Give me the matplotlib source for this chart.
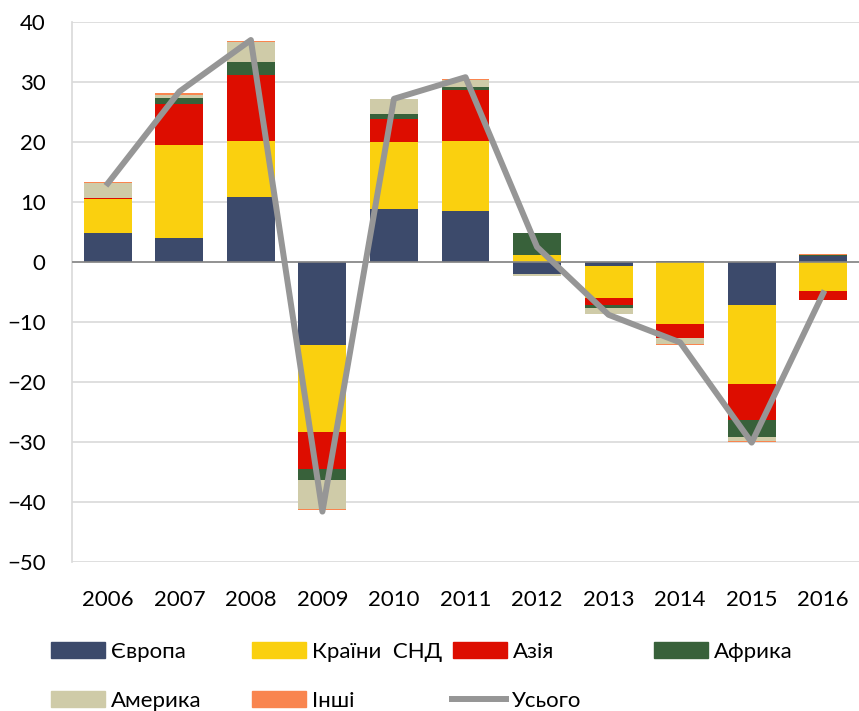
import numpy as np
import matplotlib
matplotlib.use("Agg")
import matplotlib.pyplot as plt
from matplotlib.patches import Patch
from matplotlib.lines import Line2D

plt.rcParams["font.family"] = ["Lato", "DejaVu Sans"]

years = ["2006", "2007", "2008", "2009", "2010", "2011", "2012", "2013", "2014", "2015", "2016"]

europe = [4.8, 4.0, 10.8, -13.8, 8.9, 8.5, -2.0, -0.7, 0.1, -7.2, 1.0]
cis = [5.7, 15.5, 9.3, -14.6, 11.1, 11.7, 1.2, -5.3, -10.4, -13.2, -4.8]
asia = [0.2, 6.8, 11.0, -6.1, 3.8, 8.4, 0.0, -1.2, -2.3, -5.9, -1.6]
africa = [0.0, 1.1, 2.2, -1.9, 0.8, 0.5, 3.6, -0.5, 0.1, -2.8, 0.15]
america = [2.5, 0.4, 3.3, -4.8, 2.5, 1.2, -0.3, -0.9, -1.0, -0.8, 0.0]
others = [0.1, 0.3, 0.25, -0.2, 0.1, 0.2, -0.1, -0.1, -0.1, -0.1, 0.15]
total = [13.1, 28.4, 37.0, -41.6, 27.2, 30.8, 2.5, -8.8, -13.4, -30.1, -5.2]

series = [
    ("Європа", europe, "#3C4A6B"),
    ("Країни  СНД", cis, "#FAD00F"),
    ("Азія", asia, "#DD0D00"),
    ("Африка", africa, "#38613A"),
    ("Америка", america, "#CFCBA8"),
    ("Інші", others, "#F9854F"),
]
line_color = "#969696"

fig = plt.figure(figsize=(8.59, 7.11), dpi=100)
ax = fig.add_axes([72 / 859, 1 - 562 / 711, 787 / 859, 540 / 711])

x = np.arange(len(years))
pos_bottom = np.zeros(len(years))
neg_bottom = np.zeros(len(years))
for name, vals, color in series:
    v = np.array(vals, dtype=float)
    bottom = np.where(v >= 0, pos_bottom, neg_bottom)
    ax.bar(x, v, width=0.67, bottom=bottom, color=color, edgecolor="none", zorder=2)
    pos_bottom += np.where(v >= 0, v, 0)
    neg_bottom += np.where(v < 0, v, 0)

ax.plot(x, total, color=line_color, linewidth=4.3, zorder=4)

ax.set_xlim(-0.5, len(years) - 0.5)
ax.set_ylim(-50, 40)
ax.set_yticks(np.arange(-50, 41, 10))
ax.set_xticks(x)
ax.set_xticklabels(years)
ax.tick_params(axis="both", length=0, labelsize=16, colors="black")
ax.tick_params(axis="y", pad=19)
ax.tick_params(axis="x", pad=20)
ax.grid(axis="y", color="#D9D9D9", linewidth=1.2, zorder=0)
ax.axhline(0, color="#868686", linewidth=1.2, zorder=3)
for s in ["top", "right", "bottom"]:
    ax.spines[s].set_visible(False)
ax.spines["left"].set_color("#D9D9D9")
ax.spines["left"].set_linewidth(1.2)

# legend entries placed like the original two-row layout
entries = [(Patch(color=c), n) for n, _, c in series]
entries.append((Line2D([], [], color=line_color, linewidth=4.3), "Усього"))
slots = [(51, 652), (252, 652), (453, 652), (654, 652),
         (51, 701), (252, 701), (452, 701)]
for (h, label), (px, py) in zip(entries, slots):
    fig.legend(handles=[h], labels=[label], loc="center left",
               bbox_to_anchor=(px / 859, 1 - py / 711), frameon=False,
               fontsize=16, handlelength=2.45, handleheight=0.7,
               handletextpad=0.25, borderpad=0, borderaxespad=0)

fig.savefig("out.png", dpi=100)
